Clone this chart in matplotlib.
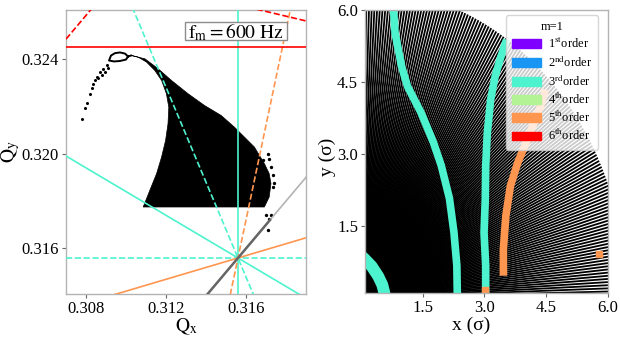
import numpy as np
import matplotlib
matplotlib.use('Agg')
import matplotlib.pyplot as plt
from matplotlib.patches import Patch, Polygon, Rectangle
from matplotlib.collections import LineCollection

plt.rcParams['font.family'] = ['Liberation Serif', 'DejaVu Serif']
plt.rcParams['mathtext.fontset'] = 'stix'

# ---- left panel: tune footprint ----
fp_qx = [0.31028, 0.31095, 0.31161, 0.31227, 0.31310, 0.31393, 0.31476, 0.31542,
         0.31592, 0.31642, 0.31667, 0.31692, 0.31716, 0.31725, 0.31716, 0.31692,
         0.31086, 0.31119, 0.31153, 0.31178, 0.31198, 0.31210, 0.31214, 0.31202,
         0.31178, 0.31144, 0.31103, 0.31061]
fp_qy = [0.32414, 0.32400, 0.32358, 0.32309, 0.32253, 0.32203, 0.32161, 0.32112,
         0.32070, 0.32028, 0.31993, 0.31958, 0.31916, 0.31874, 0.31817, 0.31775,
         0.31775, 0.31845, 0.31916, 0.31986, 0.32056, 0.32126, 0.32196, 0.32253,
         0.32309, 0.32351, 0.32386, 0.32407]

loop_qx = [0.31025, 0.31010, 0.31000, 0.30970, 0.30940, 0.30915, 0.30925, 0.30945,
           0.30970, 0.30995, 0.31010]
loop_qy = [0.32414, 0.32410, 0.32397, 0.32391, 0.32389, 0.32393, 0.32414, 0.32424,
           0.32427, 0.32422, 0.32410]

tail_qx = [0.30904, 0.30886, 0.30871, 0.30856, 0.30846, 0.30837, 0.30828, 0.30821,
           0.30805, 0.30796, 0.30780, 0.30880, 0.30895, 0.30910, 0.30862]
tail_qy = [0.32372, 0.32359, 0.32344, 0.32325, 0.32309, 0.32295, 0.32275, 0.32253,
           0.32212, 0.32191, 0.32147, 0.32330, 0.32345, 0.32360, 0.32318]

edge_qx = [0.31708, 0.31716, 0.31683, 0.31725, 0.31733, 0.31741, 0.31733, 0.31700,
           0.31725, 0.31716, 0.31708]
edge_qy = [0.32000, 0.31979, 0.31972, 0.31944, 0.31909, 0.31875, 0.31859, 0.31740,
           0.31740, 0.31726, 0.31677]

diag_qx = [0.3140, 0.3172]
diag_qy = [0.3140, 0.3172]

# resonance lines a*Qx + b*Qy = c  (m=1 sideband, fm = 600 Hz)
res_a = [3, 0, 1, 2, 4, 1, 0, 1, -3]
res_b = [0, 3, 2, 1, -1, -4, 6, 5, 3]
res_c = [0.9468, 0.9468, 0.9468, 0.9468, 0.9468, -0.9468, 1.9469, 1.9470, 0.0535]
res_order = [3, 3, 3, 3, 5, 5, 6, 6, 6]
res_ls = ['-', '--', '-', '--', '--', '-', '-', '--', '--']

# ---- right panel: initial amplitudes ----
ray_angles = np.linspace(0, 90, 145)
r_max = 6.45

band3a_x = [0.79, 0.83, 0.99, 1.13, 1.46, 1.76, 1.95, 2.15, 2.26, 2.33, 2.34, 2.35]
band3a_y = [6.05, 5.52, 4.82, 4.41, 3.86, 3.24, 2.76, 2.07, 1.36, 0.67, 0.12, 0.0]
band3b_x = [3.54, 3.40, 3.26, 3.15, 3.07, 3.03, 3.02, 2.99, 3.03, 3.03, 3.03]
band3b_y = [5.38, 5.03, 4.62, 4.13, 3.44, 2.75, 2.05, 1.36, 0.67, 0.12, 0.0]
band3c_x = [0.0, 0.08, 0.26, 0.42, 0.52, 0.57, 0.58]
band3c_y = [0.88, 0.82, 0.66, 0.45, 0.27, 0.10, 0.0]
band5_x = [3.46, 3.46, 3.52, 3.63, 3.81, 4.01, 4.17, 4.36, 4.48]
band5_y = [0.46, 1.02, 1.71, 2.33, 2.82, 3.23, 3.58, 3.99, 4.34]
blob5_x = [3.02, 5.77]
blob5_y = [0.16, 0.91]

order_labels = ['1$^{\\rm st}$order', '2$^{\\rm nd}$order', '3$^{\\rm rd}$order',
                '4$^{\\rm th}$order', '5$^{\\rm th}$order', '6$^{\\rm th}$order']
colors = plt.cm.rainbow(np.linspace(0, 1, 6))

fig = plt.figure(figsize=(6.2, 3.37), dpi=100)
ax1 = fig.add_axes([0.1065, 0.1276, 0.387, 0.8427])
ax2 = fig.add_axes([0.5887, 0.1306, 0.392, 0.840])

# left
xlim = (0.307, 0.319)
ylim = (0.31408, 0.32606)
ax1.set_xlim(xlim)
ax1.set_ylim(ylim)
ax1.add_patch(Polygon(np.column_stack([fp_qx, fp_qy]), closed=True, fc='k', ec='k', lw=0.5, zorder=2))
ax1.plot(loop_qx, loop_qy, '-', color='k', lw=1.4, zorder=2)
ax1.plot(tail_qx, tail_qy, 'o', color='k', ms=1.2, zorder=2)
ax1.plot(edge_qx, edge_qy, 'o', color='k', ms=1.4, zorder=2)

xs = np.array(xlim)
for a, b, c, o, ls in zip(res_a, res_b, res_c, res_order, res_ls):
    col = colors[o - 1]
    if b == 0:
        ax1.axvline(c / a, color=col, ls=ls, lw=1.2, zorder=3)
    else:
        ax1.plot(xs, (c - a * xs) / b, color=col, ls=ls, lw=1.2, zorder=3)
ax1.plot(xs, xs, color='0.7', lw=1.2, zorder=3)
ax1.plot(diag_qx, diag_qy, color='0.4', lw=1.8, zorder=3)

ax1.set_xticks([0.308, 0.312, 0.316])
ax1.set_yticks([0.316, 0.320, 0.324])
ax1.set_xlabel(r'$\mathrm{Q_x}$', fontsize=14, labelpad=0)
ax1.set_ylabel(r'$\mathrm{Q_y}$', fontsize=14, labelpad=0)
# label box
ax1.add_patch(Rectangle((0.496, 0.894), 0.424, 0.065, transform=ax1.transAxes,
                        fc='white', ec='0.55', lw=1, zorder=5))
ax1.text(0.708, 0.922, r'$\mathrm{f_m = 600\ Hz}$', transform=ax1.transAxes,
         ha='center', va='center', fontsize=14, zorder=6)

# right
ax2.set_xlim(0.1, 6.0)
ax2.set_ylim(0.1, 6.0)
th = np.deg2rad(ray_angles)
segs = [[(0, 0), (r_max * np.cos(t), r_max * np.sin(t))] for t in th]
ax2.add_collection(LineCollection(segs, colors='k', linewidths=1.3, zorder=1))
c3 = colors[2]
c5 = colors[4]
ax2.plot(band3a_x, band3a_y, color=c3, lw=5.5, solid_capstyle='butt', zorder=2)
ax2.plot(band3b_x, band3b_y, color=c3, lw=5.5, solid_capstyle='butt', zorder=2)
ax2.plot(band3c_x, band3c_y, color=c3, lw=8.5, solid_capstyle='butt', zorder=2)
ax2.plot(band5_x, band5_y, color=c5, lw=5.5, solid_capstyle='butt', zorder=2)
ax2.plot(blob5_x, blob5_y, 's', color=c5, ms=5, zorder=2)

ax2.set_xticks([1.5, 3.0, 4.5, 6.0])
ax2.set_yticks([1.5, 3.0, 4.5, 6.0])
ax2.set_xlabel('x (σ)', fontsize=14, labelpad=0)
ax2.set_ylabel('y (σ)', fontsize=14, labelpad=2)
ax2.xaxis.set_label_coords(0.435, -0.085)
ax2.yaxis.set_label_coords(-0.12, 0.48)
handles = [Patch(color=colors[i], label=order_labels[i]) for i in range(6)]
ax2.legend(handles=handles, title='m=1', fontsize=9, title_fontsize=9,
           loc='upper right', bbox_to_anchor=(0.96, 0.982), borderaxespad=0,
           handlelength=2.3, handleheight=0.7, labelspacing=0.25, borderpad=0.5,
           handletextpad=0.6)

for ax in (ax1, ax2):
    ax.tick_params(labelsize=12, length=3, width=0.8, color='0.4', pad=2)
    for s in ax.spines.values():
        s.set_color('0.7')
        s.set_linewidth(1.0)

fig.savefig('out.png', dpi=100)
